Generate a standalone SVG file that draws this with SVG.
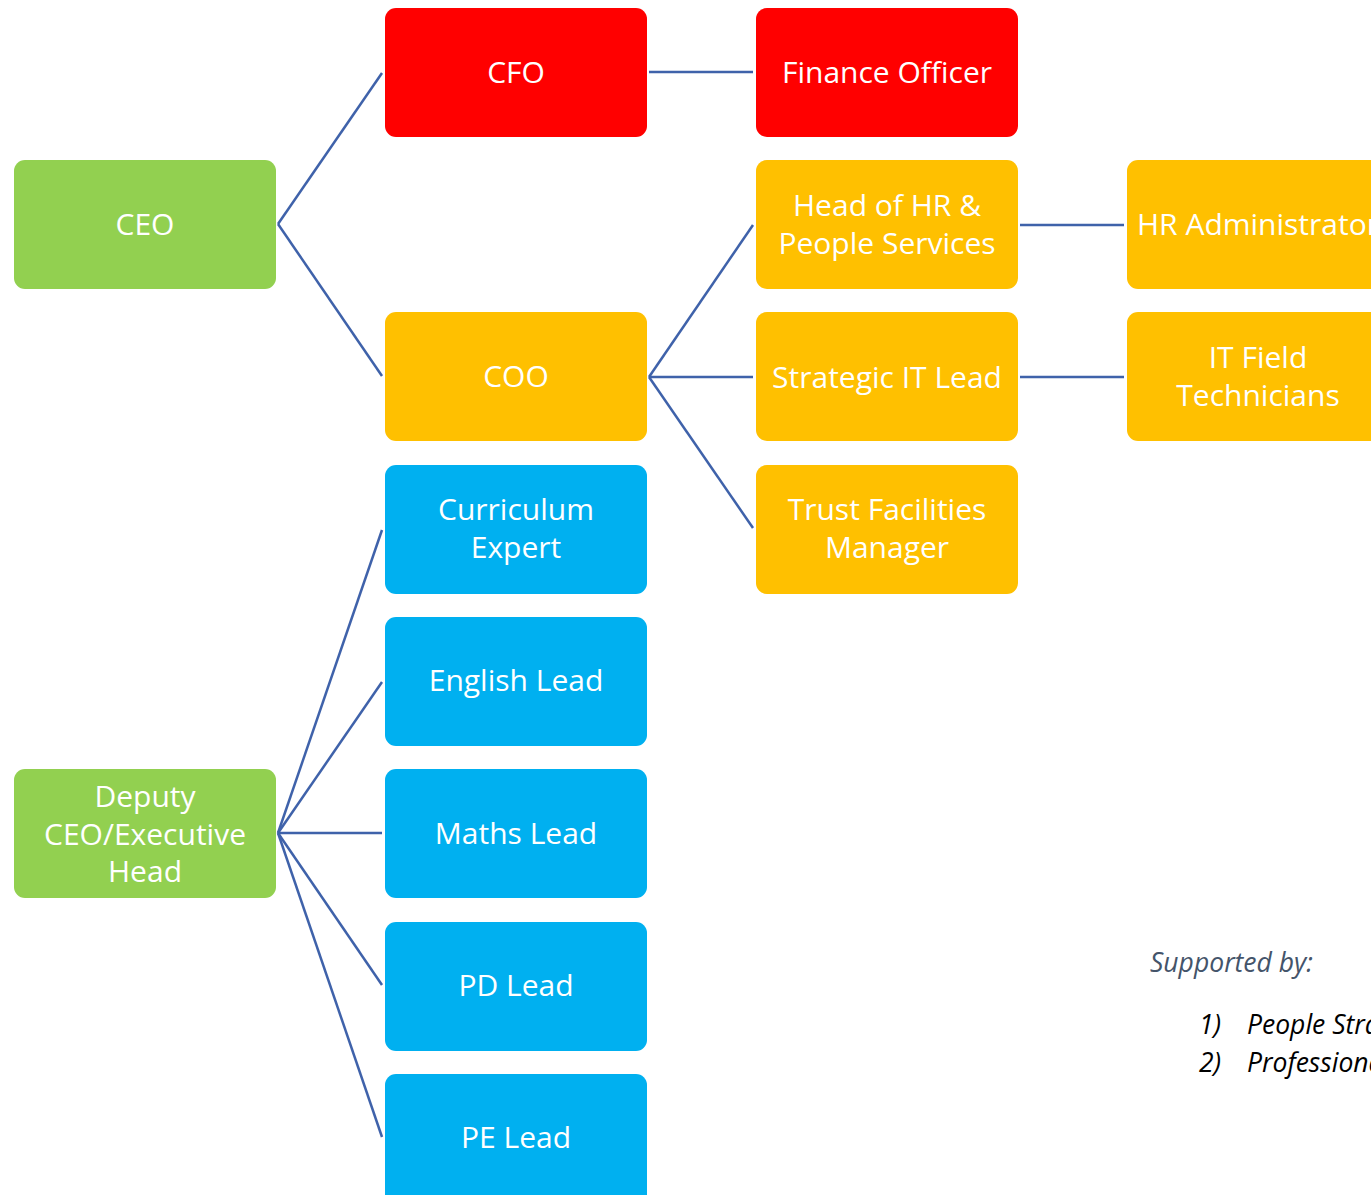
<svg xmlns="http://www.w3.org/2000/svg" width="1371" height="1195" viewBox="0 0 1371 1195">
<style>
.box{stroke:none}
.g{fill:#92D050}.r{fill:#FF0000}.o{fill:#FFC000}.b{fill:#00B0F0}
.t{font-family:"Open Sans","Liberation Sans",sans-serif;font-size:30px;fill:#FFFFFF;text-anchor:middle}
.c{stroke:#3F62AA;stroke-width:2.5;fill:none}
.s{font-family:"Open Sans","Liberation Sans",sans-serif;font-style:italic;font-size:26.5px}
</style>
<rect width="1371" height="1195" fill="#FFFFFF"/>
<g id="connectors">
<line class="c" x1="278" y1="224" x2="382" y2="73"/>
<line class="c" x1="278" y1="224" x2="382" y2="376"/>
<line class="c" x1="649" y1="72" x2="753" y2="72"/>
<line class="c" x1="649" y1="377" x2="753" y2="225"/>
<line class="c" x1="649" y1="377" x2="753" y2="377"/>
<line class="c" x1="649" y1="377" x2="753" y2="528"/>
<line class="c" x1="1020" y1="225" x2="1124" y2="225"/>
<line class="c" x1="1020" y1="377" x2="1124" y2="377"/>
<line class="c" x1="278" y1="833" x2="382" y2="530"/>
<line class="c" x1="278" y1="833" x2="382" y2="682"/>
<line class="c" x1="278" y1="833" x2="382" y2="833"/>
<line class="c" x1="278" y1="833" x2="382" y2="985"/>
<line class="c" x1="278" y1="833" x2="382" y2="1137"/>
</g>
<g id="ceo"><rect class="box g" x="14" y="160" width="262" height="129" rx="11"/><text class="t" x="145" y="235">CEO</text></g>
<g id="deputy"><rect class="box g" x="14" y="769" width="262" height="129" rx="11"/><text class="t" x="145" y="807">Deputy</text><text class="t" x="145" y="845">CEO/Executive</text><text class="t" x="145" y="882">Head</text></g>
<g id="cfo"><rect class="box r" x="385" y="8" width="262" height="129" rx="11"/><text class="t" x="516" y="83">CFO</text></g>
<g id="coo"><rect class="box o" x="385" y="312" width="262" height="129" rx="11"/><text class="t" x="516" y="387">COO</text></g>
<g id="curriculum"><rect class="box b" x="385" y="465" width="262" height="129" rx="11"/><text class="t" x="516" y="520">Curriculum</text><text class="t" x="516" y="558">Expert</text></g>
<g id="english"><rect class="box b" x="385" y="617" width="262" height="129" rx="11"/><text class="t" x="516" y="691">English Lead</text></g>
<g id="maths"><rect class="box b" x="385" y="769" width="262" height="129" rx="11"/><text class="t" x="516" y="844">Maths Lead</text></g>
<g id="pd"><rect class="box b" x="385" y="922" width="262" height="129" rx="11"/><text class="t" x="516" y="996">PD Lead</text></g>
<g id="pe"><rect class="box b" x="385" y="1074" width="262" height="140" rx="11"/><text class="t" x="516" y="1148">PE Lead</text></g>
<g id="finance"><rect class="box r" x="756" y="8" width="262" height="129" rx="11"/><text class="t" x="887" y="83">Finance Officer</text></g>
<g id="hr"><rect class="box o" x="756" y="160" width="262" height="129" rx="11"/><text class="t" x="887" y="216">Head of HR &amp;</text><text class="t" x="887" y="254">People Services</text></g>
<g id="it"><rect class="box o" x="756" y="312" width="262" height="129" rx="11"/><text class="t" x="887" y="388">Strategic IT Lead</text></g>
<g id="facilities"><rect class="box o" x="756" y="465" width="262" height="129" rx="11"/><text class="t" x="887" y="520">Trust Facilities</text><text class="t" x="887" y="558">Manager</text></g>
<g id="hradmin"><rect class="box o" x="1127" y="160" width="262" height="129" rx="11"/><text class="t" x="1258" y="235">HR Administrator</text></g>
<g id="itfield"><rect class="box o" x="1127" y="312" width="262" height="129" rx="11"/><text class="t" x="1258" y="368">IT Field</text><text class="t" x="1258" y="406">Technicians</text></g>
<g id="note">
<text class="s" x="1150" y="972" fill="#44546A">Supported by:</text>
<text class="s" x="1199" y="1034" fill="#000000">1)</text>
<text class="s" x="1247" y="1034" fill="#000000">People Strategy</text>
<text class="s" x="1199" y="1072" fill="#000000">2)</text>
<text class="s" x="1247" y="1072" fill="#000000">Professional</text>
</g>
</svg>
